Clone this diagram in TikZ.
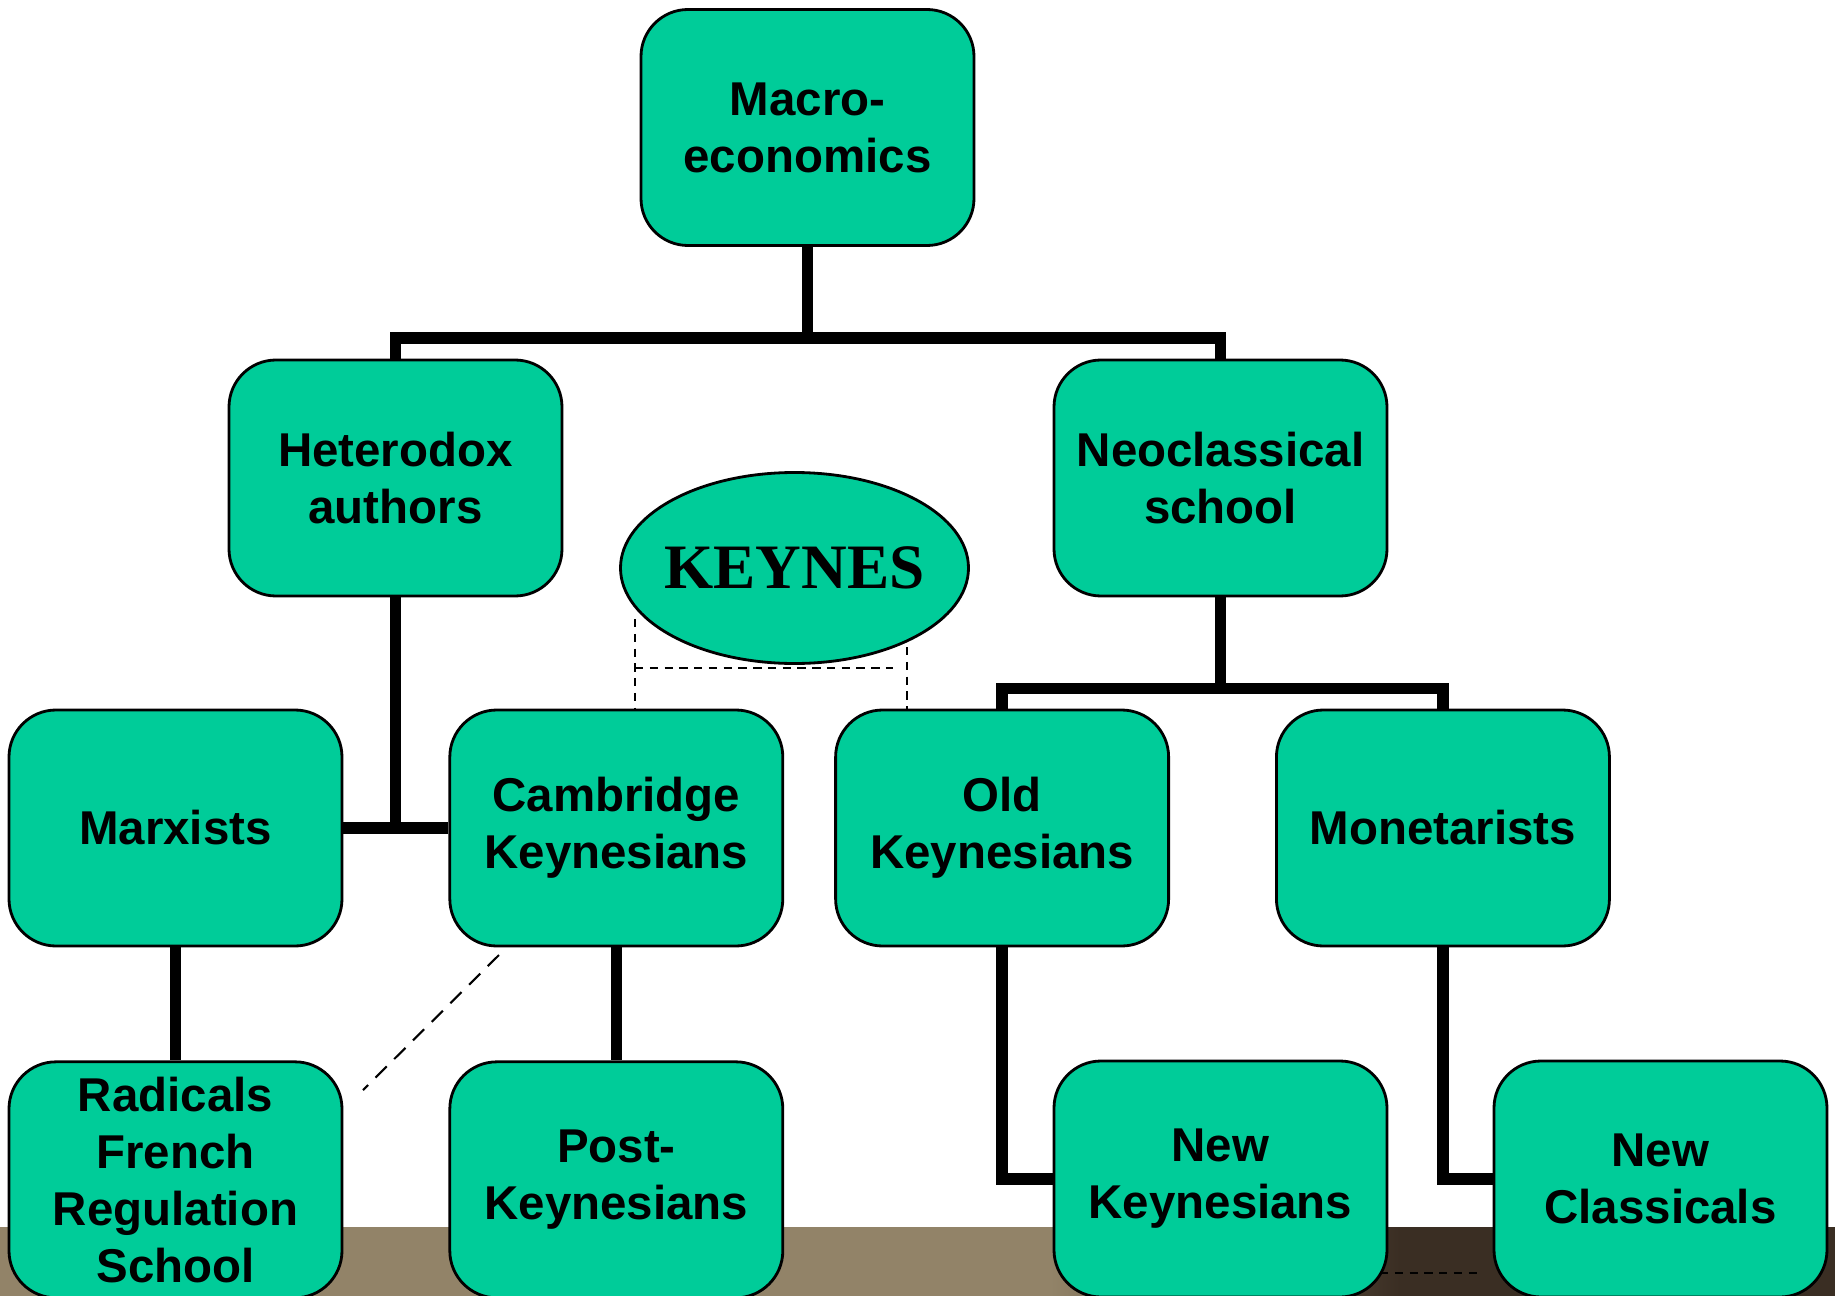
\documentclass[tikz,border=0pt]{standalone}
\usepackage{fontspec}
\setmainfont{Liberation Sans}
\newfontfamily\keynesfont{Liberation Serif}
\usepackage{tikz}
\usetikzlibrary{positioning, shapes.geometric}
\definecolor{schoolgreen}{RGB}{0,204,153}
\definecolor{floortan}{RGB}{146,131,104}
\definecolor{floordark}{RGB}{58,46,35}

\begin{document}
\begin{tikzpicture}[
    school/.style={draw, line width=0.8pt, fill=schoolgreen, rounded corners=0.47cm,
        minimum width=3.33cm, minimum height=2.36cm, inner sep=0pt, align=center,
        font=\fontsize{13.5}{16.2}\selectfont\bfseries},
    link/.style={line width=3.3pt},
    keyline/.style={line width=0.6pt, dash pattern=on 2.4pt off 1.8pt},
    hint/.style={line width=0.6pt, dash pattern=on 4.5pt off 3pt}
]
    \fill[white] (0,0) rectangle (18.35,-12.96);
    \useasboundingbox (0,0) rectangle (18.35,-12.96);
    % Floor strip at the bottom
    \fill[floortan] (0,-12.27) rectangle (10.5,-12.96);
    \shade[left color=floortan, right color=floordark] (10.5,-12.27) rectangle (14,-12.96);
    \fill[floordark] (14,-12.27) rectangle (18.35,-12.96);

    \node (macro) [school] at (8.075,-1.275) {Macro-\\economics};
    \node (hetero) [school] at (3.955,-4.78) {Heterodox\\authors};
    \node (neo) [school] at (12.205,-4.78) {Neoclassical\\school};
    \node (keynes) [draw, line width=0.8pt, fill=schoolgreen, ellipse, inner sep=0pt,
        minimum width=3.48cm, minimum height=1.91cm] at (7.945,-5.68)
        {\makebox[0pt]{\keynesfont\fontsize{18}{22}\selectfont\bfseries KEYNES}};

    \node (marx) [school] at (1.755,-8.28) {Marxists};
    \node (cam) [school, right=1.05cm of marx] {Cambridge\\Keynesians};
    \node (old) [school, right=0.50cm of cam] {Old\\Keynesians};
    \node (mon) [school, right=1.05cm of old] {Monetarists};

    \node (rad) [school, below=1.13cm of marx] {Radicals\\French\\Regulation\\School};
    \node (post) [school, below=1.13cm of cam] {Post-\\Keynesians};
    \node (newk) [school] at (12.205,-11.79) {New\\Keynesians};
    \node (newc) [school] at (16.605,-11.79) {New\\Classicals};

    % Tree connectors
    \draw [link] (macro.south) -- ++(0,-0.91) coordinate (j1);
    \draw [link] (hetero.north) |- (j1) -| (neo.north);
    \draw [link] (hetero.south) -- (hetero.south |- marx.east);
    \draw [link] (marx.east) -- (cam.west);
    \draw [link] (neo.south) -- ++(0,-0.91) coordinate (j2);
    \draw [link] (old.north) |- (j2) -| (mon.north);
    \draw [link] (marx.south) -- (rad.north);
    \draw [link] (cam.south) -- (post.north);
    \draw [link] (old.south) |- (newk.west);
    \draw [link] (mon.south) |- (newc.west);

    % Dashed hints round Keynes
    \coordinate (kl) at (6.35,-6.19);
    \coordinate (kr) at (9.07,-6.47);
    \coordinate (kh) at (8.93,-6.68);
    \draw [keyline] (kl) -- (kl |- cam.north);
    \draw [keyline] (kr) -- (kr |- old.north);
    \draw [keyline] (kl |- kh) -- (kh);
    \coordinate (d1) at (4.99,-9.55);
    \coordinate (d2) at (3.63,-10.90);
    \draw [hint] (d1) -- (d2);
    \coordinate (d3) at (13.80,-12.73);
    \coordinate (d4) at (14.78,-12.73);
    \draw [keyline] (d3) -- (d4);
\end{tikzpicture}
\end{document}
